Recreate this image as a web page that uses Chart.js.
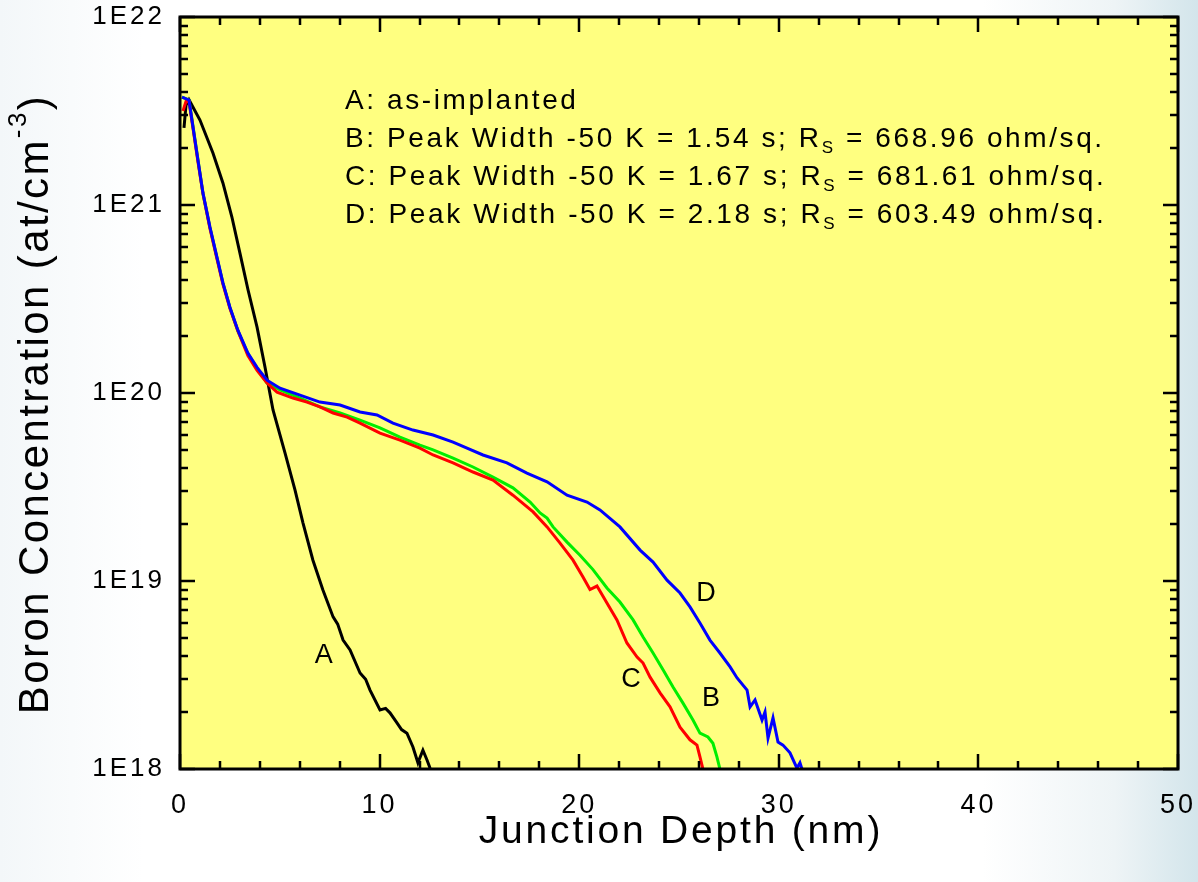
<!DOCTYPE html>
<html>
<head>
<meta charset="utf-8">
<script src="https://cdn.jsdelivr.net/npm/chart.js@4.4.0/dist/chart.umd.min.js"></script>
<style>
  html, body { margin: 0; padding: 0; }
  body {
    width: 1198px; height: 882px; overflow: hidden;
    background: linear-gradient(to right, #f3f7f9 0%, #ffffff 12%, #ffffff 82%, #eef4f6 93%, #d3e5eb 100%);
  }
</style>
</head>
<body>
<canvas id="c" width="1198" height="882"></canvas>
<script>
// x: junction depth (nm), y: boron concentration (at/cm^-3)
const depthA = [0.2, 0.3, 0.45, 1.0, 1.65, 2.15, 2.6, 3.0, 3.41, 3.86, 4.26, 4.66, 5.26, 5.76, 6.16, 6.66,
  7.16, 7.67, 7.9, 8.17, 8.52, 9.02, 9.3, 9.52, 10.02, 10.3, 10.52, 10.87, 11.1, 11.37, 11.67, 11.92, 12.17, 12.37, 12.53];
const concA = [2.57e21, 3.39e21, 3.63e21, 2.83e21, 1.89e21, 1.31e21, 8.63e20, 5.56e20, 3.53e20, 2.24e20, 1.37e20, 8.13e19, 4.80e19, 3.05e19, 2.04e19, 1.29e19,
  8.95e18, 6.44e18, 5.9e18, 4.85e18, 4.30e18, 3.24e18, 3.0e18, 2.63e18, 2.06e18, 2.1e18, 1.99e18, 1.76e18, 1.62e18, 1.55e18, 1.31e18, 1.08e18, 1.26e18, 1.12e18, 1.01e18];

const depthB = [0.1, 0.45, 0.65, 0.9, 1.15, 1.5, 1.85, 2.15, 2.5, 2.9, 3.4, 3.86, 4.36, 5.01, 6.01, 7.01, 8.02, 9.02, 10.02,
  11.02, 12.02, 12.68, 13.68, 14.68, 15.68, 16.68, 17.54, 18.04, 18.39, 18.69, 19.39, 20.04, 20.69, 21.39, 22.04,
  22.70, 23.20, 23.70, 24.20, 24.70, 25.20, 25.70, 26.05, 26.45, 26.70, 26.90, 27.05];
const concB = [3.75e21, 3.62e21, 2.63e21, 1.74e21, 1.15e21, 7.59e20, 5.25e20, 3.85e20, 2.85e20, 2.14e20, 1.62e20, 1.35e20, 1.13e20, 1.04e20, 9.40e19, 8.43e19, 7.83e19, 7.18e19, 6.52e19,
  5.83e19, 5.28e19, 4.98e19, 4.51e19, 4.04e19, 3.57e19, 3.13e19, 2.63e19, 2.30e19, 2.16e19, 1.94e19, 1.61e19, 1.37e19, 1.15e19, 9.18e18, 7.73e18,
  6.21e18, 5.04e18, 4.14e18, 3.37e18, 2.73e18, 2.24e18, 1.82e18, 1.55e18, 1.48e18, 1.37e18, 1.16e18, 1.0e18];

const depthC = [0.15, 0.3, 0.45, 0.65, 0.9, 1.15, 1.5, 1.85, 2.15, 2.5, 2.9, 3.4, 3.86, 4.36, 4.86, 5.66, 6.36, 7.01, 7.67, 8.37, 9.02,
  10.02, 11.02, 12.02, 12.68, 13.68, 14.68, 15.68, 16.68, 17.69, 18.39, 19.04, 19.69, 20.19, 20.54, 20.89, 21.39, 21.89,
  22.39, 22.90, 23.20, 23.55, 24.05, 24.55, 25.05, 25.55, 25.90, 26.05, 26.20];
const concC = [3.16e21, 3.55e21, 3.55e21, 2.57e21, 1.70e21, 1.15e21, 7.50e20, 5.19e20, 3.80e20, 2.82e20, 2.14e20, 1.58e20, 1.32e20, 1.13e20, 1.01e20, 9.40e19, 8.95e19, 8.43e19, 7.83e19, 7.45e19, 6.92e19,
  6.12e19, 5.62e19, 5.09e19, 4.68e19, 4.25e19, 3.80e19, 3.44e19, 2.86e19, 2.33e19, 1.94e19, 1.59e19, 1.29e19, 1.05e19, 9.0e18, 9.4e18, 7.64e18, 6.21e18,
  4.68e18, 3.94e18, 3.66e18, 3.08e18, 2.54e18, 2.14e18, 1.67e18, 1.43e18, 1.34e18, 1.16e18, 1.0e18];

const depthD = [0.1, 0.45, 0.65, 0.9, 1.15, 1.5, 1.85, 2.15, 2.5, 2.9, 3.4, 3.86, 4.36, 5.01, 6.01, 7.01, 8.02, 9.02, 9.87,
  10.67, 11.67, 12.68, 13.68, 14.38, 15.18, 16.38, 17.38, 18.39, 19.39, 20.39, 21.04, 22.04, 23.05, 23.70, 24.40,
  25.05, 25.55, 26.05, 26.55, 27.05, 27.56, 27.91, 28.41, 28.56, 28.81, 29.16, 29.31, 29.46, 29.71, 29.96, 30.21,
  30.56, 30.91, 31.06, 31.16];
const concD = [3.75e21, 3.62e21, 2.60e21, 1.73e21, 1.16e21, 7.64e20, 5.28e20, 3.85e20, 2.86e20, 2.16e20, 1.63e20, 1.37e20, 1.17e20, 1.06e20, 9.75e19, 8.95e19, 8.63e19, 7.93e19, 7.64e19,
  6.92e19, 6.35e19, 5.98e19, 5.48e19, 5.09e19, 4.68e19, 4.25e19, 3.75e19, 3.37e19, 2.86e19, 2.63e19, 2.39e19, 1.94e19, 1.46e19, 1.26e19, 1.01e19,
  8.63e18, 7.28e18, 5.98e18, 4.85e18, 4.14e18, 3.49e18, 3.05e18, 2.63e18, 2.14e18, 2.33e18, 1.82e18, 2.01e18, 1.46e18, 1.87e18, 1.39e18, 1.34e18,
  1.22e18, 1.01e18, 1.08e18, 1.0e18];

const xTickValues = [0, 10, 20, 30, 40, 50];
const xTickLabels = ['0', '10', '20', '30', '40', '50'];
const yTickValues = [1e18, 1e19, 1e20, 1e21, 1e22];
const yTickLabels = ['1E18', '1E19', '1E20', '1E21', '1E22'];

const curveNames = ['A', 'B', 'C', 'D'];
// label anchor of each curve letter, in data units [depth, conc]
const curveLabelAt = [[7.2, 4.0e18], [26.6, 2.37e18], [22.6, 3.0e18], [26.35, 8.6e18]];

const noteLines = [
  [{ t: 'A: as-implanted' }],
  [{ t: 'B: Peak Width -50 K = 1.54 s; R' }, { t: 'S', sub: true }, { t: ' = 668.96 ohm/sq.' }],
  [{ t: 'C: Peak Width -50 K = 1.67 s; R' }, { t: 'S', sub: true }, { t: ' = 681.61 ohm/sq.' }],
  [{ t: 'D: Peak Width -50 K = 2.18 s; R' }, { t: 'S', sub: true }, { t: ' = 603.49 ohm/sq.' }]
];

const FONT = '"Liberation Sans", Arial, Helvetica, sans-serif';

function pts(xs, ys) {
  return xs.map((x, i) => ({ x: x, y: ys[i] }));
}

function drawRuns(ctx, runs, x, y, size, spacing) {
  // draws text runs left to right, sub/superscripts smaller and shifted
  let cx = x;
  runs.forEach(r => {
    const s = r.sub || r.sup ? Math.round(size * 0.62) : size;
    ctx.font = s + 'px ' + FONT;
    ctx.letterSpacing = spacing + 'px';
    let dy = 0;
    if (r.sub) dy = size * 0.32;
    if (r.sup) dy = -size * 0.42;
    ctx.fillText(r.t, cx, y + dy);
    cx += ctx.measureText(r.t).width;
  });
  return cx - x;
}

function runsWidth(ctx, runs, size, spacing) {
  let w = 0;
  runs.forEach(r => {
    const s = r.sub || r.sup ? Math.round(size * 0.62) : size;
    ctx.font = s + 'px ' + FONT;
    ctx.letterSpacing = spacing + 'px';
    w += ctx.measureText(r.t).width;
  });
  return w;
}

const framePlugin = {
  id: 'frame',
  beforeDraw(chart) {
    const { ctx, chartArea: a } = chart;
    ctx.save();
    ctx.fillStyle = '#ffff80';
    ctx.fillRect(a.left, a.top, a.right - a.left, a.bottom - a.top);
    ctx.restore();
    ctx.letterSpacing = '3px';
  },
  beforeDatasetsDraw(chart) {
    chart.ctx.letterSpacing = '0px';
  },
  afterDatasetsDraw(chart) {
    const { ctx, chartArea: a } = chart;
    const xs = chart.scales.x, ys = chart.scales.y;
    ctx.save();
    ctx.strokeStyle = '#000';
    ctx.lineCap = 'butt';

    // inward ticks on all four sides
    ctx.lineWidth = 2.5;
    ctx.beginPath();
    for (let v = 0; v <= 50; v += 2) {
      const px = Math.round(xs.getPixelForValue(v));
      const len = v % 10 === 0 ? 15 : 8;
      ctx.moveTo(px, a.bottom); ctx.lineTo(px, a.bottom - len);
      ctx.moveTo(px, a.top); ctx.lineTo(px, a.top + len);
    }
    for (let d = 18; d <= 22; d++) {
      for (let m = 1; m <= 9; m++) {
        if (d === 22 && m > 1) break;
        const py = Math.round(ys.getPixelForValue(m * Math.pow(10, d)));
        const len = m === 1 ? 15 : 8;
        ctx.moveTo(a.left, py); ctx.lineTo(a.left + len, py);
        ctx.moveTo(a.right, py); ctx.lineTo(a.right - len, py);
      }
    }
    ctx.stroke();

    ctx.lineWidth = 3;
    ctx.strokeRect(a.left, a.top, a.right - a.left, a.bottom - a.top);

    // notes
    ctx.fillStyle = '#000';
    ctx.textBaseline = 'middle';
    ctx.textAlign = 'left';
    noteLines.forEach((runs, i) => {
      drawRuns(ctx, runs, a.left + 165, a.top + 84 + i * 38, 28, 2.6);
    });

    // curve letters
    ctx.textAlign = 'center';
    ctx.font = '27px ' + FONT;
    ctx.letterSpacing = '0px';
    curveNames.forEach((n, i) => {
      const p = curveLabelAt[i];
      ctx.fillText(n, xs.getPixelForValue(p[0]), ys.getPixelForValue(p[1]));
    });

    // x title
    ctx.font = '39px ' + FONT;
    ctx.letterSpacing = '2.8px';
    ctx.fillText('Junction Depth (nm)', (a.left + a.right) / 2 + 2, 832);

    // y title, rotated, with superscript
    const yRuns = [{ t: 'Boron Concentration (at/cm' }, { t: '-3', sup: true }, { t: ')' }];
    ctx.textAlign = 'left';
    ctx.translate(36, 404);
    ctx.rotate(-Math.PI / 2);
    const w = runsWidth(ctx, yRuns, 42, 2.4);
    drawRuns(ctx, yRuns, -w / 2, 0, 42, 2.4);
    ctx.restore();
    ctx.letterSpacing = '0px';
  }
};

new Chart(document.getElementById('c'), {
  type: 'line',
  data: {
    datasets: [
      { label: 'D', data: pts(depthD, concD), borderColor: '#0000ff', order: 0 },
      { label: 'C', data: pts(depthC, concC), borderColor: '#ff0000', order: 1 },
      { label: 'B', data: pts(depthB, concB), borderColor: '#00ee00', order: 2 },
      { label: 'A', data: pts(depthA, concA), borderColor: '#000000', order: 3 }
    ]
  },
  options: {
    responsive: false,
    animation: false,
    layout: { padding: { top: 17, right: 20, left: 0, bottom: 0 } },
    elements: {
      line: { borderWidth: 3, tension: 0, fill: false },
      point: { radius: 0, hoverRadius: 0 }
    },
    plugins: { legend: { display: false }, tooltip: { enabled: false } },
    scales: {
      x: {
        type: 'linear', min: 0, max: 50,
        grid: { display: false, drawTicks: false },
        border: { display: false },
        afterBuildTicks: s => { s.ticks = xTickValues.map(v => ({ value: v })); },
        afterFit: s => { s.height = 113; s.paddingLeft = 0; s.paddingRight = 0; },
        ticks: {
          padding: 20, color: '#000', maxRotation: 0,
          font: { family: FONT, size: 27 },
          callback: (v, i) => xTickLabels[i]
        }
      },
      y: {
        type: 'logarithmic', min: 1e18, max: 1e22,
        grid: { display: false, drawTicks: false },
        border: { display: false },
        afterBuildTicks: s => { s.ticks = yTickValues.map(v => ({ value: v })); },
        afterFit: s => { s.width = 180; s.paddingTop = 0; s.paddingBottom = 0; },
        ticks: {
          padding: 15, color: '#000',
          font: { family: FONT, size: 26 },
          callback: (v, i) => yTickLabels[i]
        }
      }
    }
  },
  plugins: [framePlugin]
});
</script>
</body>
</html>
